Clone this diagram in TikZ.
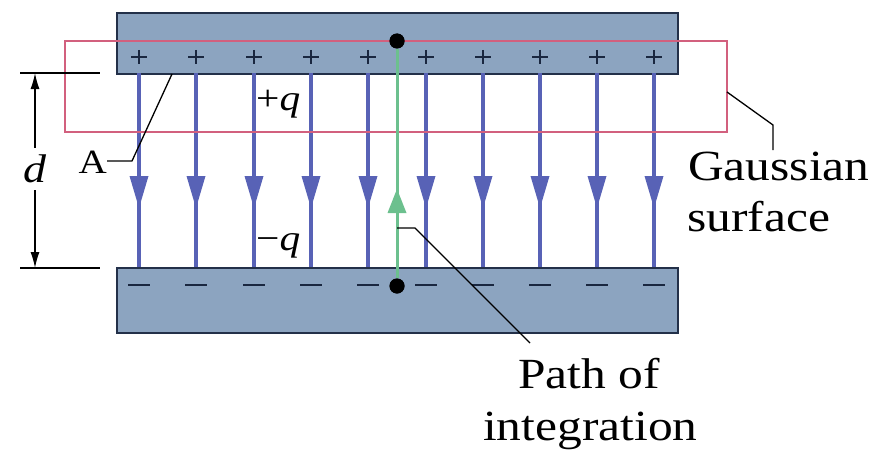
\documentclass[tikz,border=0pt]{standalone}
\usepackage{fontspec}
\setmainfont{Liberation Serif}
\newfontfamily\labfont{Liberation Serif}[FakeStretch=1.15]
\usetikzlibrary{arrows.meta}
\definecolor{platefill}{HTML}{8CA4C0}
\definecolor{plateedge}{HTML}{233049}
\definecolor{fieldc}{HTML}{5862B6}
\definecolor{pathc}{HTML}{6CC08E}
\definecolor{gausc}{HTML}{D2607E}
\definecolor{signc}{HTML}{1A2740}
\begin{document}
\begin{tikzpicture}[x=1pt,y=-1pt,
  plate/.style={draw=plateedge,fill=platefill,line width=2pt,inner sep=0pt,anchor=north west,minimum width=561pt},
  field/.style={draw=fieldc,line width=3.5pt},
  sign/.style={draw=signc,line width=2.4pt},
  dotnode/.style={circle,fill=black,inner sep=0pt,minimum size=15pt},
  leader/.style={draw=black,line width=1.3pt},
  big/.style={font=\labfont\fontsize{43}{48}\selectfont,inner sep=0pt},
  mid/.style={font=\labfont\fontsize{36}{40}\selectfont,inner sep=0pt},
  dimline/.style={draw=black,line width=1.3pt}
]
\useasboundingbox (0,0) rectangle (874,452);
% plates
\node[plate,minimum height=61pt] (topplate) at (116,12) {};
\node[plate,minimum height=65pt] (botplate) at (116,267) {};
% charges
\foreach \x in {139,196,254,311,368,426,483,540,597,654}{
  \draw[sign] (\x-8,57) -- (\x+8,57) (\x,50) -- (\x,64);
  \draw[sign] (\x-11,285) -- (\x+11,285);
}
% field lines
\foreach \x in {139,196,254,311,368,426,483,540,597,654}{
  \draw[field] (\x,73) -- (\x,267);
  \fill[fieldc] (\x-9.5,176) -- (\x+9.5,176) -- (\x,208) -- cycle;
}
% Gaussian surface
\draw[gausc,line width=1.5pt] (65,41) rectangle (727,132);
% path of integration
\node[dotnode] (dtop) at (397,41) {};
\node[dotnode] (dbot) at (397,286) {};
\draw[pathc,line width=3pt] (dtop) -- (dbot);
\fill[pathc] (387.5,213) -- (406.5,213) -- (397,189) -- cycle;
\node[dotnode] at (dtop) {};
\node[dotnode] at (dbot) {};
% d dimension
\draw[dimline] (20,73) -- (100,73);
\draw[dimline] (20,268) -- (100,268);
\coordinate (dimtop) at (35,73);
\coordinate (dimbot) at (35,268);
\node[font=\labfont\itshape\fontsize{40}{44}\selectfont,inner xsep=0pt,inner ysep=7pt] (dlab) at (35,169) {d};
\draw[dimline,-{Latex[length=16pt,width=9pt]}] (dlab.north) -- (dimtop);
\draw[dimline,-{Latex[length=16pt,width=9pt]}] (dlab.south) -- (dimbot);
% A label
\node[font=\labfont\fontsize{34}{38}\selectfont,inner sep=0pt,anchor=base east] (Alab) at (107,173) {A};
\coordinate (Aend) at (172,74);
\draw[leader] (Alab.east |- 0,161) -- (132,161) -- (Aend);
% charges labels
\node[mid,anchor=base west] (plusq) at (256,110) {+\textit{q}};
\node[mid,anchor=base west] (minusq) at (256,250) {−\textit{q}};
% Gaussian surface label
\node[big,anchor=base west] (gauss) at (688,180) {Gaussian};
\node[big,anchor=base west] (surf) at (687,231) {surface};
\coordinate (gs) at (727,92);
\draw[leader] (gs) -- (773,125) -- (773,150);
% path of integration label
\node[big,anchor=base west] (pathof) at (518,388) {Path of};
\node[big,anchor=base west] (integ) at (483,440) {integration};
\coordinate (pp) at (397,228);
\draw[leader] (pp) -- (415,228) -- (530,343);
\end{tikzpicture}
\end{document}
